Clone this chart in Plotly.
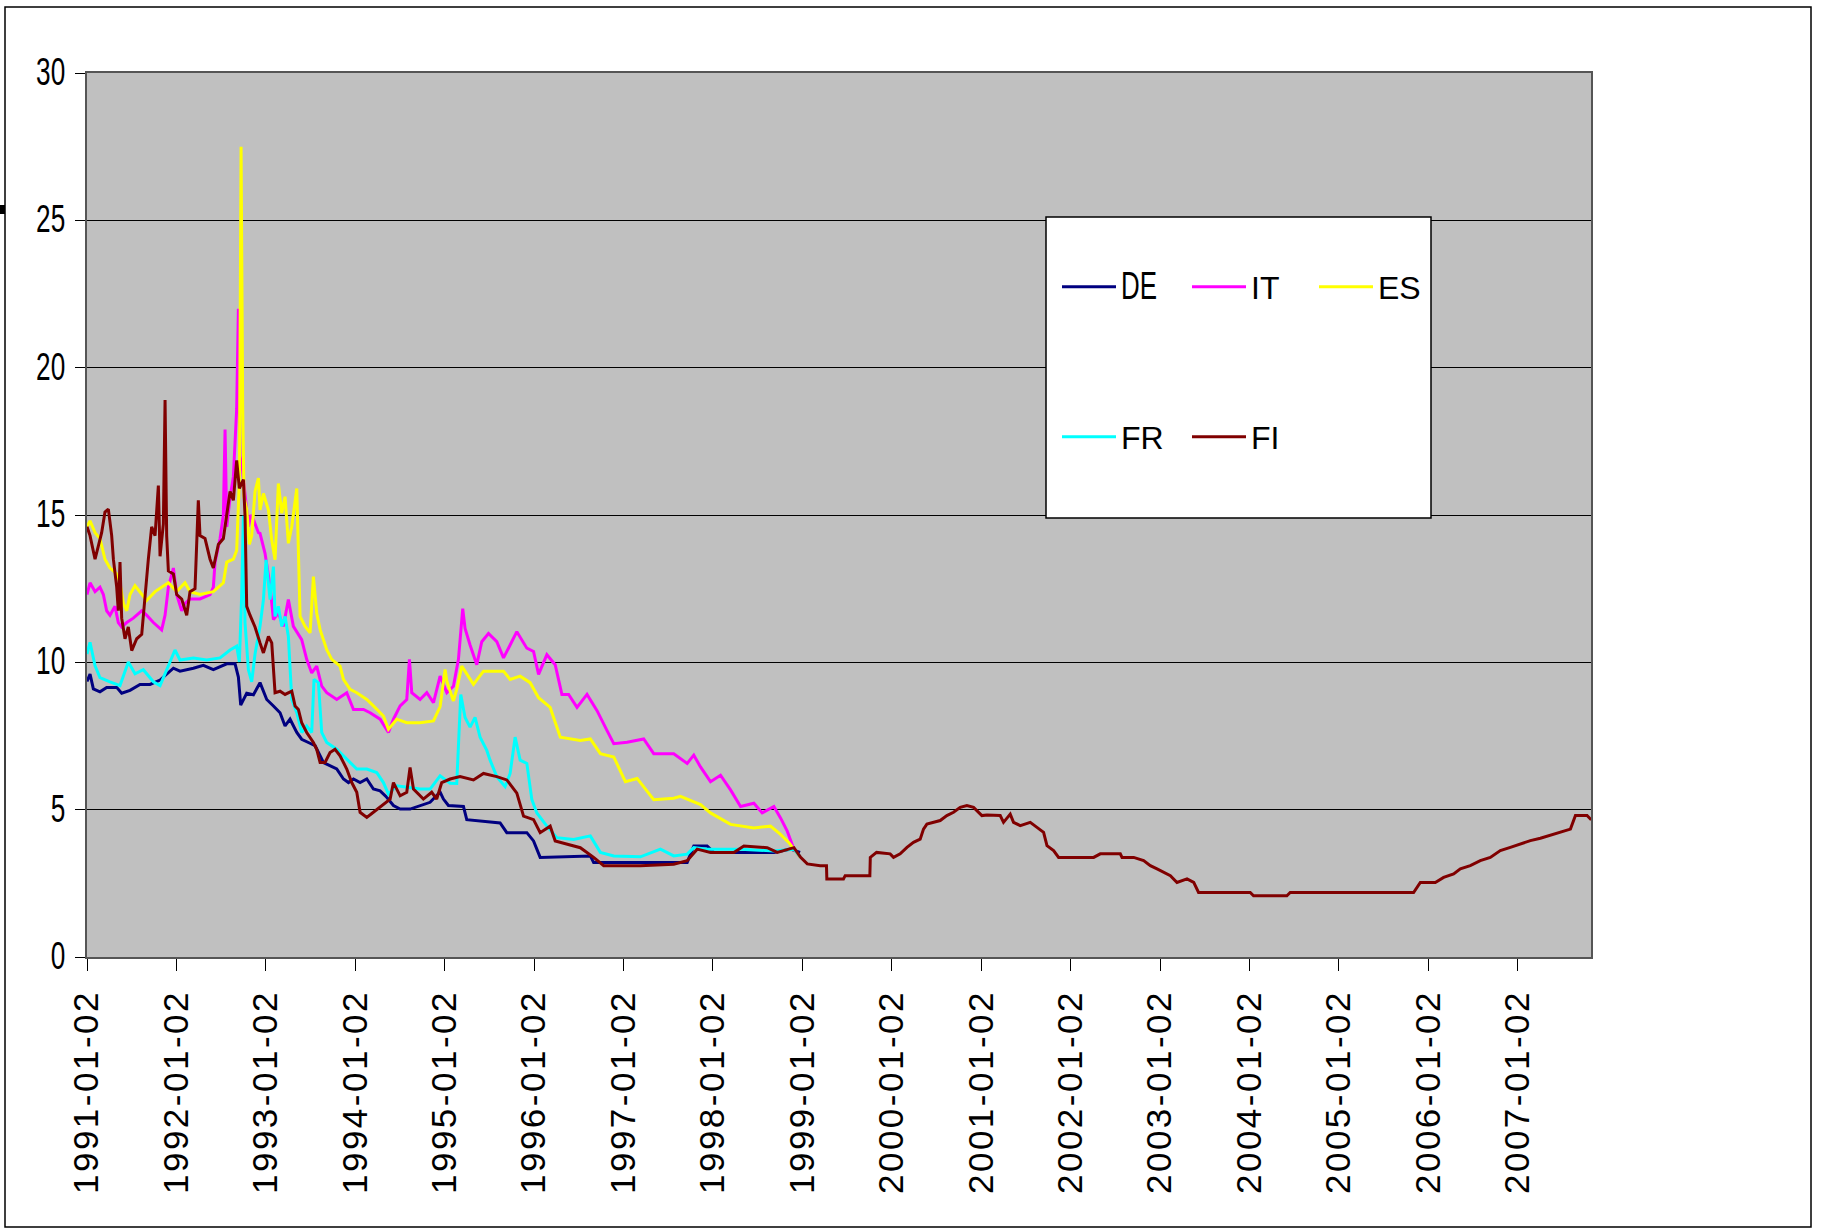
import plotly.graph_objects as go

# ---- data (decimal year, rate %) ----
DE = [(1991.0, 9.35), (1991.034, 9.6), (1991.071, 9.1), (1991.145, 9.0), (1991.22, 9.15), (1991.332, 9.15),
      (1991.388, 8.95), (1991.481, 9.05), (1991.593, 9.25), (1991.705, 9.25), (1991.817, 9.4), (1991.891, 9.6),
      (1991.966, 9.8), (1992.04, 9.7), (1992.19, 9.8), (1992.301, 9.9), (1992.413, 9.75), (1992.563, 9.95),
      (1992.656, 9.95), (1992.693, 9.5), (1992.719, 8.55), (1992.786, 8.95), (1992.861, 8.9), (1992.935, 9.31),
      (1993.01, 8.74), (1993.085, 8.52), (1993.159, 8.29), (1993.215, 7.84), (1993.271, 8.07), (1993.346, 7.62),
      (1993.401, 7.39), (1993.476, 7.28), (1993.551, 7.17), (1993.644, 6.6), (1993.718, 6.49), (1993.793, 6.38),
      (1993.868, 6.04), (1993.924, 5.92), (1993.98, 6.04), (1994.054, 5.92), (1994.129, 6.04), (1994.203, 5.70),
      (1994.278, 5.64), (1994.352, 5.42), (1994.427, 5.14), (1994.502, 5.02), (1994.613, 5.02), (1994.725, 5.14),
      (1994.837, 5.25), (1994.949, 5.6), (1994.986, 5.36), (1995.042, 5.14), (1995.21, 5.11), (1995.247, 4.66),
      (1995.62, 4.55), (1995.695, 4.22), (1995.919, 4.22), (1995.994, 3.94), (1996.068, 3.38), (1996.629, 3.43),
      (1996.666, 3.21), (1997.712, 3.21), (1997.786, 3.77), (1997.935, 3.77), (1998.01, 3.55), (1998.682, 3.55),
      (1998.869, 3.66), (1998.975, 3.55)]

IT = [(1991.0, 12.3), (1991.034, 12.7), (1991.09, 12.4), (1991.145, 12.55), (1991.183, 12.3), (1991.22, 11.75),
      (1991.257, 11.6), (1991.313, 11.9), (1991.35, 11.35), (1991.388, 11.2), (1991.444, 11.35), (1991.518, 11.5),
      (1991.612, 11.75), (1991.667, 11.6), (1991.742, 11.35), (1991.835, 11.1), (1991.873, 11.6), (1991.91, 12.55),
      (1991.966, 13.2), (1992.003, 12.3), (1992.059, 11.75), (1992.096, 12.0), (1992.152, 12.15), (1992.264, 12.15),
      (1992.376, 12.3), (1992.413, 12.55), (1992.432, 13.4), (1992.488, 14.2), (1992.525, 15.0), (1992.544, 17.9),
      (1992.563, 14.6), (1992.6, 15.6), (1992.637, 16.3), (1992.674, 18.6), (1992.693, 22.0), (1992.711, 17.0),
      (1992.737, 16.6), (1992.767, 15.6), (1992.805, 14.6), (1992.831, 15.0), (1992.861, 14.85), (1992.917, 14.4),
      (1992.935, 14.38), (1992.991, 13.70), (1993.047, 12.58), (1993.085, 11.45), (1993.14, 11.67), (1993.196, 11.22),
      (1993.252, 12.13), (1993.308, 11.22), (1993.401, 10.77), (1993.457, 10.1), (1993.513, 9.64), (1993.569, 9.87),
      (1993.625, 9.19), (1993.681, 8.97), (1993.793, 8.74), (1993.905, 8.97), (1993.98, 8.40), (1994.092, 8.40),
      (1994.166, 8.29), (1994.278, 8.07), (1994.371, 7.62), (1994.427, 8.07), (1994.502, 8.52), (1994.576, 8.74),
      (1994.606, 10.1), (1994.632, 8.97), (1994.725, 8.74), (1994.8, 8.97), (1994.875, 8.63), (1994.949, 9.53),
      (1995.024, 8.97), (1995.098, 9.19), (1995.154, 10.1), (1995.202, 11.82), (1995.228, 11.15), (1995.284, 10.59),
      (1995.359, 9.92), (1995.415, 10.70), (1995.49, 10.98), (1995.583, 10.70), (1995.658, 10.15), (1995.732, 10.59),
      (1995.807, 11.04), (1995.919, 10.48), (1995.994, 10.37), (1996.05, 9.59), (1996.143, 10.26), (1996.236, 9.92),
      (1996.311, 8.91), (1996.386, 8.91), (1996.48, 8.47), (1996.592, 8.91), (1996.704, 8.36), (1996.816, 7.68),
      (1996.891, 7.24), (1997.04, 7.29), (1997.226, 7.40), (1997.338, 6.90), (1997.562, 6.90), (1997.712, 6.57),
      (1997.786, 6.85), (1997.861, 6.45), (1997.973, 5.95), (1998.085, 6.17), (1998.197, 5.67), (1998.309, 5.11),
      (1998.458, 5.22), (1998.551, 4.89), (1998.682, 5.11), (1998.756, 4.72), (1998.831, 4.27), (1998.906, 3.66),
      (1998.975, 3.38)]

ES = [(1991.0, 14.6), (1991.034, 14.8), (1991.09, 14.4), (1991.145, 14.2), (1991.201, 13.5), (1991.257, 13.2),
      (1991.295, 13.1), (1991.332, 13.0), (1991.369, 12.7), (1991.407, 12.0), (1991.444, 11.75), (1991.481, 12.3),
      (1991.537, 12.6), (1991.593, 12.4), (1991.667, 12.1), (1991.761, 12.4), (1991.835, 12.55), (1991.91, 12.7),
      (1992.003, 12.4), (1992.096, 12.7), (1992.152, 12.4), (1992.264, 12.3), (1992.413, 12.4), (1992.525, 12.7),
      (1992.563, 13.4), (1992.637, 13.5), (1992.674, 13.8), (1992.704, 16.2), (1992.723, 27.5), (1992.741, 18.7),
      (1992.756, 15.6), (1992.786, 15.2), (1992.816, 14.0), (1992.842, 14.3), (1992.879, 15.8), (1992.917, 16.25),
      (1992.935, 15.17), (1992.973, 15.73), (1993.029, 15.17), (1993.066, 14.15), (1993.103, 13.48), (1993.14, 16.07),
      (1993.178, 15.06), (1993.215, 15.62), (1993.252, 14.04), (1993.29, 14.61), (1993.346, 15.9), (1993.364, 13.25),
      (1993.383, 11.56), (1993.439, 11.22), (1993.495, 11.0), (1993.532, 12.91), (1993.569, 11.67), (1993.607, 11.11),
      (1993.681, 10.43), (1993.737, 10.1), (1993.83, 9.87), (1993.868, 9.42), (1993.942, 9.08), (1994.017, 8.97),
      (1994.129, 8.74), (1994.203, 8.52), (1994.315, 8.18), (1994.371, 7.73), (1994.464, 8.07), (1994.576, 7.95),
      (1994.725, 7.95), (1994.875, 8.01), (1994.949, 8.5), (1995.005, 9.76), (1995.024, 9.36), (1995.098, 8.69),
      (1995.135, 9.08), (1995.191, 9.87), (1995.322, 9.25), (1995.434, 9.70), (1995.658, 9.70), (1995.732, 9.42),
      (1995.844, 9.53), (1995.956, 9.31), (1996.05, 8.80), (1996.18, 8.47), (1996.293, 7.46), (1996.517, 7.35),
      (1996.629, 7.40), (1996.741, 6.90), (1996.891, 6.79), (1997.021, 5.95), (1997.152, 6.06), (1997.338, 5.34),
      (1997.562, 5.39), (1997.637, 5.45), (1997.861, 5.17), (1997.973, 4.89), (1998.197, 4.50), (1998.458, 4.38),
      (1998.644, 4.44), (1998.756, 4.16), (1998.85, 3.88), (1998.906, 3.66), (1998.975, 3.38)]

FR = [(1991.0, 10.28), (1991.034, 10.68), (1991.09, 9.88), (1991.145, 9.48), (1991.257, 9.34), (1991.369, 9.21),
      (1991.462, 10.01), (1991.537, 9.61), (1991.63, 9.75), (1991.742, 9.34), (1991.817, 9.21), (1991.91, 9.88),
      (1991.984, 10.42), (1992.04, 10.08), (1992.19, 10.15), (1992.339, 10.08), (1992.488, 10.15), (1992.6, 10.42),
      (1992.674, 10.55), (1992.704, 10.01), (1992.73, 12.29), (1992.749, 14.97), (1992.767, 11.35), (1992.805, 9.75),
      (1992.842, 9.34), (1992.879, 10.28), (1992.935, 11.22), (1992.973, 12.13), (1993.003, 13.48), (1993.047, 12.13),
      (1993.085, 13.25), (1993.103, 11.56), (1993.14, 11.9), (1993.178, 11.22), (1993.215, 11.56), (1993.252, 10.88),
      (1993.29, 8.74), (1993.346, 8.29), (1993.401, 7.62), (1993.457, 7.84), (1993.513, 7.62), (1993.539, 9.42),
      (1993.588, 9.31), (1993.625, 7.62), (1993.681, 7.28), (1993.793, 7.05), (1993.905, 6.71), (1994.017, 6.38),
      (1994.129, 6.38), (1994.24, 6.26), (1994.315, 5.92), (1994.371, 5.53), (1994.464, 5.81), (1994.576, 5.76),
      (1994.725, 5.70), (1994.837, 5.70), (1994.949, 6.15), (1995.061, 5.9), (1995.135, 5.89), (1995.18, 8.91),
      (1995.228, 8.13), (1995.284, 7.80), (1995.34, 8.13), (1995.396, 7.46), (1995.471, 7.01), (1995.508, 6.68),
      (1995.583, 6.12), (1995.676, 5.78), (1995.732, 6.23), (1995.788, 7.46), (1995.844, 6.68), (1995.919, 6.57),
      (1995.975, 5.34), (1996.031, 4.89), (1996.143, 4.44), (1996.255, 4.05), (1996.442, 3.99), (1996.629, 4.11),
      (1996.741, 3.55), (1996.891, 3.43), (1997.189, 3.40), (1997.413, 3.66), (1997.562, 3.43), (1997.712, 3.49),
      (1997.786, 3.71), (1997.935, 3.66), (1998.309, 3.66), (1998.682, 3.60), (1998.906, 3.66), (1998.975, 3.40)]

FI = [(1991.0, 14.6), (1991.034, 14.3), (1991.09, 13.5), (1991.127, 14.0), (1991.164, 14.4), (1991.201, 15.1),
      (1991.239, 15.2), (1991.276, 14.3), (1991.295, 13.5), (1991.332, 12.55), (1991.35, 11.75), (1991.369, 13.4),
      (1991.388, 11.5), (1991.425, 10.8), (1991.462, 11.2), (1991.5, 10.4), (1991.556, 10.8), (1991.612, 10.95),
      (1991.649, 12.3), (1991.686, 13.5), (1991.723, 14.6), (1991.761, 14.3), (1991.798, 16.0), (1991.817, 13.6),
      (1991.854, 14.7), (1991.873, 18.9), (1991.891, 14.3), (1991.91, 13.1), (1991.966, 13.0), (1992.003, 12.3),
      (1992.059, 12.15), (1992.115, 11.6), (1992.152, 12.4), (1992.208, 12.5), (1992.245, 15.5), (1992.264, 14.3),
      (1992.32, 14.2), (1992.376, 13.5), (1992.413, 13.2), (1992.469, 14.0), (1992.525, 14.2), (1992.563, 15.1),
      (1992.6, 15.8), (1992.637, 15.5), (1992.674, 16.85), (1992.704, 15.9), (1992.749, 16.2), (1992.767, 15.0),
      (1992.786, 11.9), (1992.823, 11.6), (1992.879, 11.2), (1992.935, 10.66), (1992.973, 10.32), (1993.029, 10.88),
      (1993.066, 10.66), (1993.103, 8.97), (1993.159, 9.02), (1993.215, 8.91), (1993.29, 9.02), (1993.327, 8.52),
      (1993.364, 8.40), (1993.401, 7.95), (1993.457, 7.62), (1993.532, 7.28), (1993.569, 7.05), (1993.607, 6.6),
      (1993.662, 6.6), (1993.718, 6.94), (1993.774, 7.05), (1993.83, 6.83), (1993.905, 6.38), (1993.961, 5.92),
      (1994.017, 5.59), (1994.054, 4.91), (1994.129, 4.74), (1994.203, 4.91), (1994.315, 5.19), (1994.39, 5.36),
      (1994.427, 5.92), (1994.502, 5.47), (1994.576, 5.59), (1994.613, 6.43), (1994.651, 5.70), (1994.762, 5.36),
      (1994.855, 5.59), (1994.911, 5.36), (1994.967, 5.92), (1995.061, 6.04), (1995.172, 6.12), (1995.322, 6.01),
      (1995.434, 6.23), (1995.583, 6.12), (1995.695, 6.01), (1995.807, 5.56), (1995.882, 4.78), (1995.994, 4.66),
      (1996.068, 4.22), (1996.18, 4.44), (1996.236, 3.94), (1996.367, 3.83), (1996.517, 3.71), (1996.666, 3.38),
      (1996.779, 3.10), (1997.189, 3.10), (1997.562, 3.15), (1997.712, 3.27), (1997.824, 3.66), (1997.973, 3.55),
      (1998.234, 3.55), (1998.346, 3.77), (1998.607, 3.71), (1998.719, 3.55), (1998.906, 3.71), (1998.981, 3.38),
      (1999.055, 3.16), (1999.2, 3.10), (1999.27, 3.10), (1999.274, 2.65), (1999.46, 2.65), (1999.479, 2.76),
      (1999.755, 2.76), (1999.76, 3.38), (1999.83, 3.55), (1999.982, 3.50), (2000.02, 3.38), (2000.094, 3.50),
      (2000.17, 3.72), (2000.243, 3.89), (2000.318, 4.00), (2000.355, 4.34), (2000.393, 4.51), (2000.542, 4.63),
      (2000.616, 4.80), (2000.691, 4.91), (2000.766, 5.08), (2000.84, 5.14), (2000.915, 5.08), (2001.008, 4.80),
      (2001.064, 4.82), (2001.213, 4.80), (2001.25, 4.57), (2001.325, 4.85), (2001.362, 4.57), (2001.437, 4.46),
      (2001.549, 4.57), (2001.624, 4.40), (2001.698, 4.23), (2001.736, 3.78), (2001.81, 3.61), (2001.866, 3.38),
      (2002.258, 3.38), (2002.332, 3.50), (2002.556, 3.50), (2002.575, 3.38), (2002.706, 3.38), (2002.817, 3.27),
      (2002.892, 3.10), (2002.967, 2.99), (2003.041, 2.87), (2003.116, 2.76), (2003.19, 2.53), (2003.302, 2.65),
      (2003.377, 2.53), (2003.431, 2.19), (2004.009, 2.19), (2004.046, 2.08), (2004.419, 2.08), (2004.456, 2.19),
      (2005.836, 2.19), (2005.911, 2.53), (2006.079, 2.53), (2006.172, 2.70), (2006.284, 2.82), (2006.359, 2.99),
      (2006.47, 3.10), (2006.582, 3.27), (2006.694, 3.38), (2006.806, 3.61), (2006.918, 3.72), (2007.03, 3.83),
      (2007.142, 3.95), (2007.254, 4.03), (2007.366, 4.14), (2007.478, 4.25), (2007.59, 4.34), (2007.646, 4.80),
      (2007.776, 4.80), (2007.814, 4.68), (2007.85, 4.68)]

SERIES = ["DE", "IT", "ES", "FR", "FI"]
COLORS = ["#000080", "#FF00FF", "#FFFF00", "#00FFFF", "#800000"]
TICK_YEARS = list(range(1991, 2008))
TICK_TEXT = [f"{y}-01-02" for y in TICK_YEARS]

DATA = {"DE": DE, "IT": IT, "ES": ES, "FR": FR, "FI": FI}

# ---- geometry (pixels) ----
W, H = 1821, 1229
L, R, T, B = 87, 1591, 73, 957
PW, PH = R - L, B - T


def px(x):
    return (x - L) / PW


def py(y):
    return (B - y) / PH


ARIAL = "Liberation Sans, Arial, sans-serif"

fig = go.Figure()
legend_names = ["legend", "legend2", "legend3", "legend4", "legend5"]
for name, color, lg in zip(SERIES, COLORS, legend_names):
    pts = DATA[name]
    fig.add_trace(go.Scatter(
        x=[p[0] for p in pts], y=[p[1] for p in pts], name=name, mode="lines",
        line=dict(color=color, width=3), legend=lg, hoverinfo="x+y+name"))

# legend positions: (line start x, row y)
LEG_POS = [(1063, 287), (1193, 287), (1320, 287), (1063, 437), (1193, 437)]
legend_common = dict(orientation="h", xanchor="left", yanchor="middle", bgcolor="rgba(0,0,0,0)",
                     borderwidth=0, itemwidth=54, font=dict(family=ARIAL, size=32, color="black"),
                     itemclick=False, itemdoubleclick=False)
layout_legends = {}
for lg, (lx, ly) in zip(legend_names, LEG_POS):
    layout_legends[lg] = dict(legend_common, x=px(lx - 6), y=py(ly))

shapes = [
    # outer chart border
    dict(type="rect", xref="paper", yref="paper", x0=px(5), x1=px(1811), y0=py(1227), y1=py(7),
         line=dict(color="black", width=1.5), fillcolor="rgba(0,0,0,0)", layer="above"),
    # small mark at left edge
    dict(type="rect", xref="paper", yref="paper", x0=px(0), x1=px(5), y0=py(214), y1=py(205),
         line=dict(width=0), fillcolor="black", layer="above"),
    # legend box
    dict(type="rect", xref="paper", yref="paper", x0=px(1046), x1=px(1431), y0=py(518), y1=py(217),
         line=dict(color="black", width=1.5), fillcolor="white", layer="above"),
]

fig.update_layout(
    width=W, height=H, autosize=False,
    margin=dict(l=L, r=W - R, t=T, b=H - B, pad=0),
    paper_bgcolor="white", plot_bgcolor="#C0C0C0",
    showlegend=True, shapes=shapes,
    xaxis=dict(range=[1991.0, 2007.82], tickmode="array", tickvals=TICK_YEARS, ticktext=TICK_TEXT,
               tickangle=-90, ticks="outside", ticklen=12, tickwidth=1, tickcolor="black",
               ticklabelstandoff=5,
               tickfont=dict(family=ARIAL, size=35, color="black"),
               showgrid=False, zeroline=False, showline=True, linecolor="#555555", linewidth=2,
               mirror=True, fixedrange=True),
    yaxis=dict(range=[0, 30], dtick=5, tick0=0, ticks="outside", ticklen=10, tickwidth=1, tickcolor="black",
               ticklabelstandoff=3,
               tickfont=dict(family=ARIAL, size=34, color="black"),
               showgrid=True, gridcolor="black", gridwidth=1, zeroline=False,
               showline=True, linecolor="#555555", linewidth=2, mirror=True, fixedrange=True),
    **layout_legends,
)

POST = """
document.body.style.margin='0';
document.body.style.overflow='hidden';
var st=document.createElement('style');
st.textContent='.xtick text{letter-spacing:2.5px;}';
document.head.appendChild(st);
function squeeze(sel, sx, sy){
  document.querySelectorAll(sel).forEach(function(t){
    var x=parseFloat(t.getAttribute('x')||'0');
    var y=parseFloat(t.getAttribute('y')||'0');
    var tr=t.getAttribute('transform')||'';
    t.setAttribute('transform', tr+' translate('+(x*(1-sx))+','+(y*(1-sy))+') scale('+sx+','+sy+')');
  });
}
squeeze('.ytick text', 0.77, 1.15);
squeeze('.legendtext', 0.81, 1.2);
"""

fig.write_html("out.html", include_plotlyjs=True, config={"displayModeBar": False}, post_script=POST)
